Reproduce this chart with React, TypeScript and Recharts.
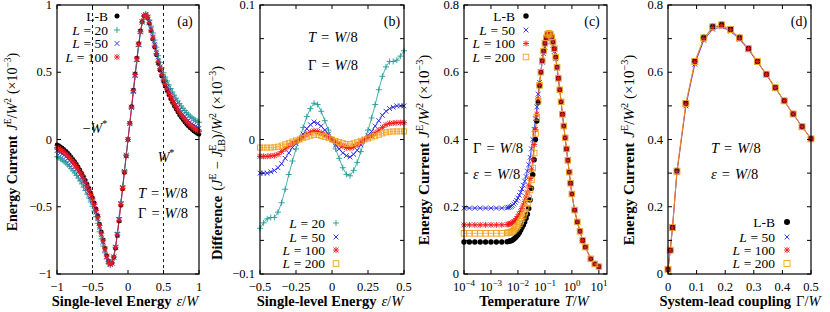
import React from 'react';
import { LineChart, Line, XAxis, YAxis, ReferenceLine } from 'recharts';

const FONT = '"Liberation Serif", "Times New Roman", serif';
const TEAL = '#1f9c96';
const BLUE = '#2727e0';
const RED = '#f01a1a';
const ORANGE = '#f2a220';
const TOP = 5;
const BOTTOM = 274;

// ---------- (a) energy current vs single-level energy ----------
const epsA = Array.from({ length: 81 }, (_, i) => -1 + i * 0.025);
const lbA = [
  -0.038, -0.045, -0.053, -0.063, -0.074, -0.086, -0.099, -0.113, -0.129, -0.146,
  -0.164, -0.183, -0.204, -0.226, -0.25, -0.275, -0.302, -0.331, -0.362, -0.395,
  -0.43, -0.47, -0.515, -0.565, -0.628, -0.685, -0.745, -0.806, -0.862, -0.905,
  -0.926, -0.918, -0.877, -0.808, -0.715, -0.607, -0.49, -0.368, -0.245, -0.122,
  0,
  0.122, 0.245, 0.368, 0.49, 0.607, 0.715, 0.808, 0.877, 0.918, 0.926,
  0.905, 0.862, 0.806, 0.745, 0.685, 0.628, 0.565, 0.515, 0.47, 0.43,
  0.395, 0.362, 0.331, 0.302, 0.275, 0.25, 0.226, 0.204, 0.183, 0.164,
  0.146, 0.129, 0.113, 0.099, 0.086, 0.074, 0.063, 0.053, 0.045, 0.038,
];
const l20A = [
  -0.128, -0.135, -0.143, -0.153, -0.163, -0.174, -0.187, -0.2, -0.216, -0.232,
  -0.249, -0.267, -0.287, -0.308, -0.33, -0.354, -0.379, -0.406, -0.435, -0.464,
  -0.496, -0.532, -0.574, -0.623, -0.686, -0.739, -0.792, -0.843, -0.888, -0.921,
  -0.933, -0.917, -0.868, -0.791, -0.692, -0.58, -0.464, -0.347, -0.231, -0.115,
  0,
  0.115, 0.231, 0.347, 0.464, 0.58, 0.692, 0.791, 0.868, 0.917, 0.933,
  0.921, 0.888, 0.843, 0.792, 0.739, 0.686, 0.623, 0.574, 0.532, 0.496,
  0.464, 0.435, 0.406, 0.379, 0.354, 0.33, 0.308, 0.287, 0.267, 0.249,
  0.232, 0.216, 0.2, 0.187, 0.174, 0.163, 0.153, 0.143, 0.135, 0.128,
];
const l50A = [
  -0.083, -0.089, -0.097, -0.107, -0.117, -0.128, -0.141, -0.154, -0.169, -0.185,
  -0.202, -0.22, -0.24, -0.261, -0.284, -0.308, -0.333, -0.361, -0.39, -0.422,
  -0.455, -0.495, -0.54, -0.589, -0.651, -0.706, -0.763, -0.82, -0.872, -0.911,
  -0.929, -0.918, -0.873, -0.8, -0.704, -0.594, -0.478, -0.358, -0.238, -0.118,
  0,
  0.118, 0.238, 0.358, 0.478, 0.594, 0.704, 0.8, 0.873, 0.918, 0.929,
  0.911, 0.872, 0.82, 0.763, 0.706, 0.651, 0.589, 0.54, 0.495, 0.455,
  0.422, 0.39, 0.361, 0.333, 0.308, 0.284, 0.261, 0.24, 0.22, 0.202,
  0.185, 0.169, 0.154, 0.141, 0.128, 0.117, 0.107, 0.097, 0.089, 0.083,
];
const l100A = [
  -0.06, -0.067, -0.075, -0.085, -0.095, -0.107, -0.12, -0.134, -0.149, -0.166,
  -0.183, -0.202, -0.222, -0.244, -0.267, -0.292, -0.318, -0.346, -0.376, -0.409,
  -0.443, -0.482, -0.527, -0.577, -0.64, -0.696, -0.754, -0.813, -0.867, -0.908,
  -0.928, -0.918, -0.875, -0.804, -0.71, -0.6, -0.484, -0.363, -0.241, -0.12,
  0,
  0.12, 0.241, 0.363, 0.484, 0.6, 0.71, 0.804, 0.875, 0.918, 0.928,
  0.908, 0.867, 0.813, 0.754, 0.696, 0.64, 0.577, 0.527, 0.482, 0.443,
  0.409, 0.376, 0.346, 0.318, 0.292, 0.267, 0.244, 0.222, 0.202, 0.183,
  0.166, 0.149, 0.134, 0.12, 0.107, 0.095, 0.085, 0.075, 0.067, 0.06,
];

// ---------- (b) difference to L-B ----------
const epsB = Array.from({ length: 41 }, (_, i) => -0.5 + i * 0.025);
const d20B = [
  -0.066, -0.062, -0.059, -0.058, -0.058, -0.054, -0.047, -0.037, -0.026, -0.016,
  -0.007, 0.001, 0.009, 0.017, 0.023, 0.027, 0.026, 0.021, 0.014, 0.007, 0,
  -0.007, -0.014, -0.021, -0.026, -0.027, -0.023, -0.017, -0.009, -0.001, 0.007,
  0.016, 0.026, 0.037, 0.047, 0.054, 0.058, 0.058, 0.059, 0.062, 0.066,
];
const d50B = [
  -0.025, -0.025, -0.025, -0.024, -0.023, -0.021, -0.018, -0.014, -0.01, -0.006,
  -0.003, 0, 0.004, 0.008, 0.011, 0.013, 0.012, 0.01, 0.007, 0.004, 0,
  -0.004, -0.007, -0.01, -0.012, -0.013, -0.011, -0.008, -0.004, 0, 0.003,
  0.006, 0.01, 0.014, 0.018, 0.021, 0.023, 0.024, 0.025, 0.025, 0.025,
];
const d100B = [
  -0.0125, -0.0125, -0.0125, -0.0122, -0.012, -0.011, -0.009, -0.007, -0.005, -0.003,
  -0.0015, 0, 0.002, 0.004, 0.0055, 0.0065, 0.006, 0.005, 0.0035, 0.002, 0,
  -0.002, -0.0035, -0.005, -0.006, -0.0065, -0.0055, -0.004, -0.002, 0, 0.0015,
  0.003, 0.005, 0.007, 0.009, 0.011, 0.012, 0.0122, 0.0125, 0.0125, 0.0125,
];
const d200B = [
  -0.006, -0.006, -0.006, -0.006, -0.0058, -0.0053, -0.0045, -0.0035, -0.0025, -0.0015,
  -0.0007, 0, 0.001, 0.002, 0.0028, 0.0034, 0.0033, 0.0027, 0.0019, 0.001, 0,
  -0.001, -0.0019, -0.0027, -0.0033, -0.0034, -0.0028, -0.002, -0.001, 0, 0.0007,
  0.0015, 0.0025, 0.0035, 0.0045, 0.0053, 0.0058, 0.006, 0.006, 0.006, 0.006,
];

// ---------- (c) energy current vs temperature ----------
const tC = [
  1e-4, 1.585e-4, 2.512e-4, 3.981e-4, 6.31e-4, 1e-3, 1.585e-3, 2.512e-3,
  3.981e-3, 4.467e-3, 5.012e-3, 5.623e-3, 6.31e-3, 7.079e-3, 7.943e-3, 8.913e-3,
  0.01, 0.01122, 0.01259, 0.01413, 0.01585, 0.01778, 0.01995, 0.02239, 0.02512, 0.02818,
  0.03162, 0.03548, 0.03981, 0.04467, 0.05012, 0.05623, 0.0631, 0.07079, 0.07943, 0.08913,
  0.1, 0.1122, 0.1259, 0.1413, 0.1585, 0.1778, 0.1995, 0.2239, 0.2512, 0.2818,
  0.3162, 0.3548, 0.3981, 0.4467, 0.5012, 0.5623, 0.631, 0.7079, 0.7943, 0.8913,
  1, 1.259, 1.585, 1.995, 2.512, 3.162, 5.012, 7.079, 10,
];
const lbC = [
  0.095, 0.095, 0.095, 0.095, 0.095, 0.095, 0.095, 0.095,
  0.096, 0.097, 0.098, 0.099, 0.101, 0.104, 0.108, 0.112,
  0.117, 0.123, 0.13, 0.138, 0.146, 0.155, 0.166, 0.178, 0.195, 0.22,
  0.255, 0.295, 0.34, 0.4, 0.455, 0.51, 0.56, 0.6, 0.634, 0.663,
  0.686, 0.702, 0.713, 0.716, 0.713, 0.705, 0.69, 0.67, 0.645, 0.615,
  0.582, 0.548, 0.512, 0.475, 0.44, 0.405, 0.372, 0.338, 0.303, 0.27,
  0.238, 0.19, 0.155, 0.127, 0.1, 0.08, 0.045, 0.03, 0.022,
];
const l50C = [
  0.196, 0.196, 0.196, 0.196, 0.196, 0.196, 0.196, 0.196,
  0.197, 0.198, 0.199, 0.201, 0.204, 0.208, 0.213, 0.219,
  0.226, 0.234, 0.243, 0.253, 0.264, 0.276, 0.29, 0.306, 0.325, 0.347,
  0.372, 0.4, 0.43, 0.462, 0.497, 0.535, 0.57, 0.602, 0.63, 0.655,
  0.675, 0.69, 0.699, 0.702, 0.7, 0.693, 0.68, 0.662, 0.64, 0.612,
  0.58, 0.546, 0.511, 0.474, 0.439, 0.404, 0.371, 0.337, 0.302, 0.269,
  0.237, 0.19, 0.155, 0.127, 0.1, 0.08, 0.045, 0.03, 0.022,
];
const l100C = [
  0.146, 0.146, 0.146, 0.146, 0.146, 0.146, 0.146, 0.146,
  0.147, 0.148, 0.149, 0.151, 0.153, 0.156, 0.16, 0.165,
  0.171, 0.178, 0.186, 0.195, 0.205, 0.216, 0.229, 0.244, 0.262, 0.284,
  0.31, 0.34, 0.385, 0.43, 0.475, 0.52, 0.563, 0.601, 0.634, 0.663,
  0.686, 0.702, 0.713, 0.716, 0.713, 0.705, 0.69, 0.67, 0.645, 0.615,
  0.582, 0.548, 0.512, 0.475, 0.44, 0.405, 0.372, 0.338, 0.303, 0.27,
  0.238, 0.19, 0.155, 0.127, 0.1, 0.08, 0.045, 0.03, 0.022,
];
const l200C = [
  0.121, 0.121, 0.121, 0.121, 0.121, 0.121, 0.121, 0.121,
  0.122, 0.123, 0.124, 0.125, 0.127, 0.13, 0.134, 0.139,
  0.144, 0.15, 0.157, 0.165, 0.174, 0.184, 0.196, 0.21, 0.226, 0.25,
  0.28, 0.315, 0.36, 0.418, 0.466, 0.514, 0.561, 0.6, 0.634, 0.663,
  0.686, 0.702, 0.713, 0.716, 0.713, 0.705, 0.69, 0.67, 0.645, 0.615,
  0.582, 0.548, 0.512, 0.475, 0.44, 0.405, 0.372, 0.338, 0.303, 0.27,
  0.238, 0.19, 0.155, 0.127, 0.1, 0.08, 0.045, 0.03, 0.022,
];

// ---------- (d) energy current vs coupling ----------
const gD = [0, 0.0078, 0.0156, 0.03125, 0.0625, 0.09375, 0.125, 0.15625, 0.1875, 0.21875, 0.25, 0.28125, 0.3125, 0.34375, 0.375, 0.40625, 0.4375, 0.46875, 0.5];
const lbD = [0.014, 0.071, 0.138, 0.307, 0.508, 0.633, 0.703, 0.736, 0.742, 0.728, 0.703, 0.671, 0.633, 0.595, 0.554, 0.515, 0.476, 0.438, 0.402];
const l50D = [0.014, 0.07, 0.136, 0.301, 0.5, 0.624, 0.695, 0.728, 0.735, 0.722, 0.698, 0.667, 0.63, 0.593, 0.553, 0.514, 0.476, 0.438, 0.403];
const l100D = [0.014, 0.071, 0.137, 0.305, 0.505, 0.63, 0.7, 0.733, 0.739, 0.726, 0.701, 0.67, 0.632, 0.594, 0.554, 0.515, 0.476, 0.438, 0.402];
const l200D = [0.014, 0.071, 0.138, 0.306, 0.507, 0.632, 0.702, 0.735, 0.741, 0.727, 0.702, 0.67, 0.632, 0.594, 0.554, 0.515, 0.476, 0.438, 0.402];

const dataA = epsA.map((x, i) => ({ x, lb: lbA[i], l20: l20A[i], l50: l50A[i], l100: l100A[i] }));
const dataB = epsB.map((x, i) => ({ x, l20: d20B[i], l50: d50B[i], l100: d100B[i], l200: d200B[i] }));
const dataC = tC.map((x, i) => ({ x, lb: lbC[i], l50: l50C[i], l100: l100C[i], l200: l200C[i] }));
const dataD = gD.map((x, i) => ({ x, lb: lbD[i], l50: l50D[i], l100: l100D[i], l200: l200D[i] }));

type Kind = 'dot' | 'plus' | 'cross' | 'star' | 'square';

function Marker({ kind, x, y, color, s }: { kind: Kind; x: number; y: number; color: string; s: number }) {
  if (kind === 'dot') return <circle cx={x} cy={y} r={s} fill={color} />;
  if (kind === 'square')
    return <rect x={x - s} y={y - s} width={2 * s} height={2 * s} fill="none" stroke={color} strokeWidth={0.9} />;
  const c = s * 0.8;
  const plus = `M${x - s},${y}H${x + s}M${x},${y - s}V${y + s}`;
  const cross = `M${x - c},${y - c}L${x + c},${y + c}M${x - c},${y + c}L${x + c},${y - c}`;
  const d = kind === 'plus' ? plus : kind === 'cross' ? cross : plus + cross;
  return <path d={d} stroke={color} strokeWidth={0.9} fill="none" />;
}

const dotRenderer = (kind: Kind, color: string, s: number) => (p: any) => {
  const k = `${kind}-${p.index}`;
  if (p.cx == null || p.cy == null) return <g key={k} />;
  return <Marker key={k} kind={kind} x={p.cx} y={p.cy} color={color} s={s} />;
};

interface Series { key: string; kind: Kind; color: string; s: number; line: boolean }

const fmt = (v: number) => (v < 0 ? '\u2212' : '') + String(Math.abs(v));

function Panel(props: {
  data: any[]; left: number; right: number; xDomain: number[]; yDomain: number[];
  xTicks: number[]; yTicks: number[]; xLabel: (v: number) => React.ReactNode; yLabel: (v: number) => string | null;
  series: Series[]; log?: boolean; children?: React.ReactNode;
}) {
  const { data, left, right } = props;
  const xTick = (p: any) => (
    <g>
      <line x1={p.x} x2={p.x} y1={BOTTOM} y2={BOTTOM - 4} stroke="#000" />
      <line x1={p.x} x2={p.x} y1={TOP} y2={TOP + 4} stroke="#000" />
      <text x={p.x} y={291} textAnchor="middle" fontSize={12.5} style={{ fontFamily: FONT }} fill="#000">
        {props.xLabel(p.payload.value)}
      </text>
    </g>
  );
  const yTick = (p: any) => {
    const lab = props.yLabel(p.payload.value);
    return (
      <g>
        <line x1={left} x2={left + 4} y1={p.y} y2={p.y} stroke="#000" />
        <line x1={right - 4} x2={right} y1={p.y} y2={p.y} stroke="#000" />
        {lab !== null && (
          <text x={left - 5} y={p.y + 4} textAnchor="end" fontSize={12.5} style={{ fontFamily: FONT }} fill="#000">
            {lab}
          </text>
        )}
      </g>
    );
  };
  return (
    <div style={{ position: 'absolute', left: 0, top: 0 }}>
      <LineChart width={830} height={312} data={data} margin={{ top: TOP, right: 830 - right, bottom: 0, left: left - 50 }}>
        <XAxis dataKey="x" type="number" scale={props.log ? 'log' : 'linear'} domain={props.xDomain} ticks={props.xTicks}
          interval={0} height={38} axisLine={false} tickLine={false} tick={xTick} />
        <YAxis type="number" domain={props.yDomain} ticks={props.yTicks} interval={0} width={50}
          axisLine={false} tickLine={false} tick={yTick} />
        {props.children}
        {props.series.map((s) => (
          <Line key={s.key} dataKey={s.key} type="linear" stroke={s.line ? s.color : 'none'} strokeWidth={0.8}
            dot={dotRenderer(s.kind, s.color, s.s)} activeDot={false} isAnimationActive={false} />
        ))}
      </LineChart>
    </div>
  );
}

const It = ({ children }: { children: React.ReactNode }) => <tspan fontStyle="italic">{children}</tspan>;

function Eq({ x, y, lhs, italic = true }: { x: number; y: number; lhs: string; italic?: boolean }) {
  return (
    <text x={x} y={y} fontSize={14.5}>
      <tspan fontStyle={italic ? 'italic' : 'normal'}>{lhs}</tspan>
      <tspan dx={5}>=</tspan>
      <tspan dx={5} fontStyle="italic">W</tspan>
      <tspan>/8</tspan>
    </text>
  );
}

function LegendRow({ xt, xm, y, n, kind, color, s }: { xt: number; xm: number; y: number; n: string | null; kind: Kind; color: string; s: number }) {
  return (
    <g>
      <text x={xt} y={y + 4.5} textAnchor="end" fontSize={13.5}>
        {n === null ? 'L-B' : (
          <>
            <It>L</It>
            <tspan dx={3.5}>=</tspan>
            <tspan dx={3.5}>{n}</tspan>
          </>
        )}
      </text>
      <Marker kind={kind} x={xm} y={y} color={color} s={s} />
    </g>
  );
}

function EnergyTitle({ x, y, size }: { x: number; y: number; size: number }) {
  const sub = size * 0.68;
  return (
    <text x={x} y={y} transform={`rotate(-90 ${x} ${y})`} textAnchor="middle" fontSize={size}>
      <tspan fontWeight="bold">Energy Current</tspan>
      <tspan dx={5} fontStyle="italic">J</tspan>
      <tspan dy={-6} fontSize={sub}>E</tspan>
      <tspan dy={6}>/</tspan>
      <tspan fontStyle="italic">W</tspan>
      <tspan dy={-6} fontSize={sub}>2</tspan>
      <tspan dy={6} dx={4}>(×10</tspan>
      <tspan dy={-6} fontSize={sub}>−3</tspan>
      <tspan dy={6}>)</tspan>
    </text>
  );
}

const frames = [[57, 199], [260, 404], [464, 607], [668, 811]];

export default function App() {
  return (
    <div style={{ position: 'absolute', left: 0, top: 0, width: 830, height: 312, background: '#fff', fontFamily: FONT }}>
      <Panel data={dataA} left={57} right={199} xDomain={[-1, 1]} yDomain={[-1, 1]}
        xTicks={[-1, -0.5, 0, 0.5, 1]} yTicks={[-1, -0.5, 0, 0.5, 1]} xLabel={fmt} yLabel={fmt}
        series={[
          { key: 'lb', kind: 'dot', color: '#000', s: 2.2, line: false },
          { key: 'l20', kind: 'plus', color: TEAL, s: 3, line: true },
          { key: 'l50', kind: 'cross', color: BLUE, s: 3, line: true },
          { key: 'l100', kind: 'star', color: RED, s: 3, line: true },
        ]}>
        <ReferenceLine x={-0.5} stroke="#000" strokeWidth={0.9} strokeDasharray="3 3" />
        <ReferenceLine x={0.5} stroke="#000" strokeWidth={0.9} strokeDasharray="3 3" />
      </Panel>
      <Panel data={dataB} left={260} right={404} xDomain={[-0.5, 0.5]} yDomain={[-0.1, 0.1]}
        xTicks={[-0.5, -0.25, 0, 0.25, 0.5]}
        yTicks={[-0.1, -0.075, -0.05, -0.025, 0, 0.025, 0.05, 0.075, 0.1]}
        xLabel={fmt} yLabel={(v) => (Math.abs(v * 10 - Math.round(v * 10)) < 1e-6 ? fmt(v) : null)}
        series={[
          { key: 'l20', kind: 'plus', color: TEAL, s: 3, line: true },
          { key: 'l50', kind: 'cross', color: BLUE, s: 3, line: true },
          { key: 'l100', kind: 'star', color: RED, s: 3, line: true },
          { key: 'l200', kind: 'square', color: ORANGE, s: 2.5, line: true },
        ]} />
      <Panel data={dataC} log left={464} right={607} xDomain={[1e-4, 20]} yDomain={[0, 0.8]}
        xTicks={[1e-4, 1e-3, 1e-2, 1e-1, 1, 10]}
        yTicks={[0, 0.1, 0.2, 0.3, 0.4, 0.5, 0.6, 0.7, 0.8]}
        xLabel={(v) => {
          const e = Math.round(Math.log10(v));
          return (
            <>
              <tspan>10</tspan>
              <tspan dy={-5} fontSize={9}>{fmt(e)}</tspan>
            </>
          );
        }}
        yLabel={(v) => (Math.round(v * 10) % 2 === 0 ? String(v) : null)}
        series={[
          { key: 'lb', kind: 'dot', color: '#000', s: 2.7, line: false },
          { key: 'l50', kind: 'cross', color: BLUE, s: 3, line: true },
          { key: 'l100', kind: 'star', color: RED, s: 3, line: true },
          { key: 'l200', kind: 'square', color: ORANGE, s: 2.8, line: true },
        ]} />
      <Panel data={dataD} left={668} right={811} xDomain={[0, 0.5]} yDomain={[0, 0.8]}
        xTicks={[0, 0.1, 0.2, 0.3, 0.4, 0.5]}
        yTicks={[0, 0.1, 0.2, 0.3, 0.4, 0.5, 0.6, 0.7, 0.8]}
        xLabel={(v) => String(v)}
        yLabel={(v) => (Math.round(v * 10) % 2 === 0 ? String(v) : null)}
        series={[
          { key: 'lb', kind: 'dot', color: '#000', s: 3, line: false },
          { key: 'l50', kind: 'cross', color: BLUE, s: 3, line: true },
          { key: 'l100', kind: 'star', color: RED, s: 3, line: true },
          { key: 'l200', kind: 'square', color: ORANGE, s: 3, line: true },
        ]} />

      <svg width={830} height={312} style={{ position: 'absolute', left: 0, top: 0, pointerEvents: 'none', fontFamily: FONT }}
        fill="#000">
        {frames.map(([l, r]) => (
          <rect key={l} x={l} y={TOP} width={r - l} height={BOTTOM - TOP} fill="none" stroke="#000" strokeWidth={1.2} />
        ))}

        {/* (a) */}
        <EnergyTitle x={17} y={142} size={14} />
        <text x={125} y={306} textAnchor="middle" fontSize={14.5}>
          <tspan fontWeight="bold">Single-level Energy</tspan>
          <tspan dx={5} fontStyle="italic">ε</tspan>
          <tspan>/</tspan>
          <tspan fontStyle="italic">W</tspan>
        </text>
        <LegendRow xt={108} xm={117} y={16} n={null} kind="dot" color="#000" s={2.5} />
        <LegendRow xt={108} xm={117} y={30} n="20" kind="plus" color={TEAL} s={3} />
        <LegendRow xt={108} xm={117} y={43.5} n="50" kind="cross" color={BLUE} s={3} />
        <LegendRow xt={108} xm={117} y={57} n="100" kind="star" color={RED} s={3} />
        <text x={185} y={26} textAnchor="middle" fontSize={14}>(a)</text>
        <text x={95} y={133} textAnchor="middle" fontSize={14}>
          −<It>W</It>
          <tspan dy={-6} fontSize={10}>*</tspan>
        </text>
        <text x={166} y={162} textAnchor="middle" fontSize={14}>
          <It>W</It>
          <tspan dy={-6} fontSize={10}>*</tspan>
        </text>
        <Eq x={138} y={198} lhs="T" />
        <Eq x={138} y={218} lhs="Γ" italic={false} />

        {/* (b) */}
        <text x={222} y={163} transform="rotate(-90 222 163)" textAnchor="middle" fontSize={14.5}>
          <tspan fontWeight="bold">Difference</tspan>
          <tspan dx={5}>(</tspan>
          <tspan fontStyle="italic">J</tspan>
          <tspan dy={-6} fontSize={10}>E</tspan>
          <tspan dy={6} dx={4}>−</tspan>
          <tspan dx={4} fontStyle="italic">J</tspan>
          <tspan dy={-6} fontSize={10}>E</tspan>
          <tspan dy={9} dx={-7} fontSize={10}>LB</tspan>
          <tspan dy={-3}>)/</tspan>
          <tspan fontStyle="italic">W</tspan>
          <tspan dy={-6} fontSize={10}>2</tspan>
          <tspan dy={6} dx={4}>(×10</tspan>
          <tspan dy={-6} fontSize={10}>−3</tspan>
          <tspan dy={6}>)</tspan>
        </text>
        <text x={330} y={306} textAnchor="middle" fontSize={14.5}>
          <tspan fontWeight="bold">Single-level Energy</tspan>
          <tspan dx={5} fontStyle="italic">ε</tspan>
          <tspan>/</tspan>
          <tspan fontStyle="italic">W</tspan>
        </text>
        <text x={392} y={26} textAnchor="middle" fontSize={14}>(b)</text>
        <Eq x={308} y={42} lhs="T" />
        <Eq x={308} y={70} lhs="Γ" italic={false} />
        <LegendRow xt={325} xm={336} y={223} n="20" kind="plus" color={TEAL} s={3} />
        <LegendRow xt={325} xm={336} y={237} n="50" kind="cross" color={BLUE} s={3} />
        <LegendRow xt={325} xm={336} y={250} n="100" kind="star" color={RED} s={3} />
        <LegendRow xt={325} xm={336} y={263.5} n="200" kind="square" color={ORANGE} s={2.8} />

        {/* (c) */}
        <EnergyTitle x={429} y={150} size={15} />
        <text x={534} y={306} textAnchor="middle" fontSize={14.5}>
          <tspan fontWeight="bold">Temperature</tspan>
          <tspan dx={5} fontStyle="italic">T</tspan>
          <tspan>/</tspan>
          <tspan fontStyle="italic">W</tspan>
        </text>
        <LegendRow xt={515} xm={526} y={16} n={null} kind="dot" color="#000" s={2.7} />
        <LegendRow xt={515} xm={526} y={30} n="50" kind="cross" color={BLUE} s={3} />
        <LegendRow xt={515} xm={526} y={43.5} n="100" kind="star" color={RED} s={3} />
        <LegendRow xt={515} xm={526} y={57} n="200" kind="square" color={ORANGE} s={2.8} />
        <text x={592} y={26} textAnchor="middle" fontSize={14}>(c)</text>
        <Eq x={473} y={153} lhs="Γ" italic={false} />
        <Eq x={473} y={179} lhs="ε" />

        {/* (d) */}
        <EnergyTitle x={634} y={150} size={15} />
        <text x={740} y={306} textAnchor="middle" fontSize={14.5}>
          <tspan fontWeight="bold">System-lead coupling</tspan>
          <tspan dx={5}>Γ</tspan>
          <tspan>/</tspan>
          <tspan fontStyle="italic">W</tspan>
        </text>
        <text x={799} y={26} textAnchor="middle" fontSize={14}>(d)</text>
        <Eq x={711} y={153} lhs="T" />
        <Eq x={711} y={179} lhs="ε" />
        <LegendRow xt={775} xm={787} y={222} n={null} kind="dot" color="#000" s={3} />
        <LegendRow xt={775} xm={787} y={237} n="50" kind="cross" color={BLUE} s={3} />
        <LegendRow xt={775} xm={787} y={250} n="100" kind="star" color={RED} s={3} />
        <LegendRow xt={775} xm={787} y={263.5} n="200" kind="square" color={ORANGE} s={3} />
      </svg>
    </div>
  );
}
